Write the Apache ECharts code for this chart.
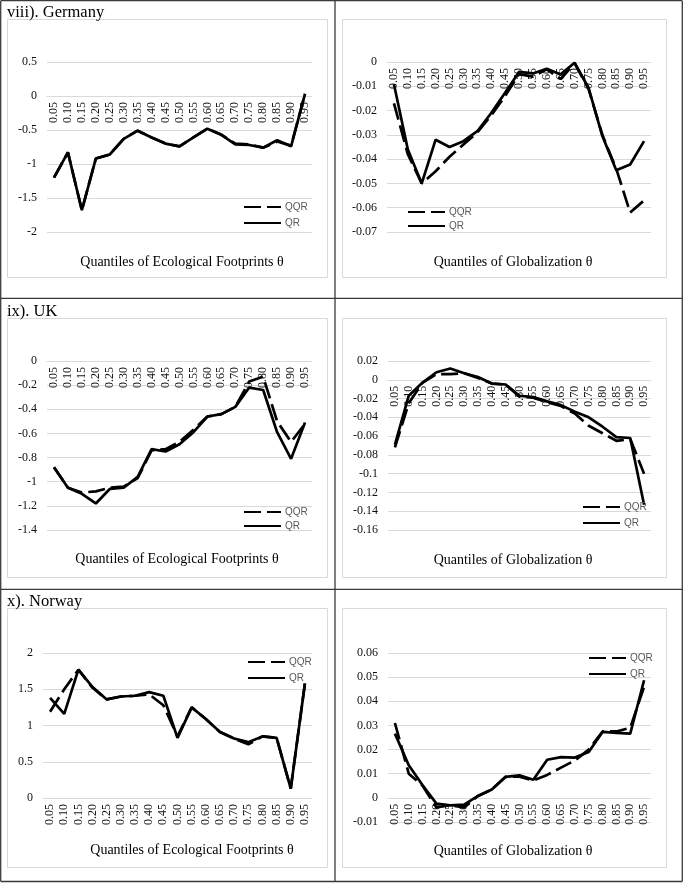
<!DOCTYPE html>
<html>
<head>
<meta charset="utf-8">
<script src="https://cdn.jsdelivr.net/npm/echarts@6/dist/echarts.min.js"></script>
<style>
html,body{margin:0;padding:0;background:#fff;}
#main{width:685px;height:883px;}
</style>
</head>
<body>
<div id="main"></div>
<script>
// ---------- data ----------
const quantiles = ['0.05','0.10','0.15','0.20','0.25','0.30','0.35','0.40','0.45','0.50','0.55','0.60','0.65','0.70','0.75','0.80','0.85','0.90','0.95'];

const panelTitles = ['viii). Germany', 'ix). UK', 'x). Norway'];
const axisTitleEF = 'Quantiles of Ecological Footprints θ';
const axisTitleGL = 'Quantiles of Globalization θ';
const seriesNames = ['QQR', 'QR'];

const germanyEF_QQR = [-1.20,-0.83,-1.68,-0.92,-0.86,-0.63,-0.51,-0.61,-0.70,-0.74,-0.61,-0.48,-0.57,-0.70,-0.71,-0.76,-0.67,-0.73,0.03];
const germanyEF_QR  = [-1.20,-0.83,-1.68,-0.92,-0.86,-0.63,-0.51,-0.61,-0.70,-0.74,-0.61,-0.48,-0.57,-0.71,-0.72,-0.76,-0.65,-0.74,0.03];

const germanyGL_QQR = [-0.017,-0.038,-0.050,-0.045,-0.039,-0.034,-0.029,-0.022,-0.014,-0.005,-0.006,-0.003,-0.007,-0.0005,-0.011,-0.030,-0.044,-0.062,-0.057];
const germanyGL_QR  = [-0.0092,-0.036,-0.050,-0.032,-0.035,-0.0326,-0.0285,-0.021,-0.0127,-0.0041,-0.0047,-0.0028,-0.0051,-0.0003,-0.0106,-0.0305,-0.0446,-0.0422,-0.0326];

const ukEF_QQR = [-0.88,-1.05,-1.09,-1.08,-1.05,-1.04,-0.97,-0.74,-0.73,-0.67,-0.57,-0.46,-0.44,-0.38,-0.17,-0.13,-0.50,-0.67,-0.52];
const ukEF_QR  = [-0.88,-1.05,-1.10,-1.18,-1.06,-1.05,-0.96,-0.73,-0.75,-0.69,-0.59,-0.46,-0.44,-0.38,-0.22,-0.24,-0.59,-0.81,-0.51];

const ukGL_QQR = [-0.072,-0.025,-0.003,0.006,0.006,0.007,0.002,-0.004,-0.005,-0.018,-0.019,-0.024,-0.028,-0.036,-0.049,-0.057,-0.065,-0.063,-0.100];
const ukGL_QR  = [-0.069,-0.017,-0.003,0.008,0.012,0.007,0.003,-0.004,-0.005,-0.017,-0.0185,-0.023,-0.027,-0.034,-0.040,-0.050,-0.061,-0.062,-0.133];

const norwayEF_QQR = [1.19,1.50,1.77,1.52,1.36,1.40,1.41,1.43,1.28,0.85,1.25,1.09,0.91,0.82,0.74,0.85,0.83,0.13,1.58];
const norwayEF_QR  = [1.38,1.16,1.77,1.53,1.36,1.40,1.41,1.46,1.41,0.83,1.25,1.09,0.91,0.82,0.77,0.85,0.83,0.13,1.58];

const norwayGL_QQR = [0.031,0.010,0.005,-0.004,-0.003,-0.004,0.0008,0.0035,0.0087,0.0088,0.0072,0.0095,0.0125,0.0155,0.020,0.0275,0.0275,0.029,0.046];
const norwayGL_QR  = [0.0266,0.0135,0.0052,-0.0024,-0.0031,-0.0028,0.0008,0.0035,0.0087,0.0093,0.0075,0.0158,0.0169,0.0167,0.0190,0.0273,0.0269,0.0266,0.0487];

// y-axis scales (min, max, interval)
const yScales = [
  [-2, 0.5, 0.5],
  [-0.07, 0, 0.01],
  [-1.4, 0, 0.2],
  [-0.16, 0.02, 0.02],
  [0, 2, 0.5],
  [-0.01, 0.06, 0.01]
];

// ---------- layout ----------
const panels = [
  {grid:{left:47, top:62, width:265, height:170}, qqr:germanyEF_QQR, qr:germanyEF_QR, xTitle:axisTitleEF, xTitlePos:[182,262], legend:{left:243, top:202, gap:6}},
  {grid:{left:387, top:62, width:264, height:170}, qqr:germanyGL_QQR, qr:germanyGL_QR, xTitle:axisTitleGL, xTitlePos:[513,262], legend:{left:407, top:207, gap:4}},
  {grid:{left:47, top:361, width:265, height:169}, qqr:ukEF_QQR, qr:ukEF_QR, xTitle:axisTitleEF, xTitlePos:[177,559], legend:{left:243, top:507, gap:4}},
  {grid:{left:388, top:361, width:263, height:169}, qqr:ukGL_QQR, qr:ukGL_QR, xTitle:axisTitleGL, xTitlePos:[513,560], legend:{left:582, top:502, gap:6}},
  {grid:{left:43, top:653, width:269, height:145}, qqr:norwayEF_QQR, qr:norwayEF_QR, xTitle:axisTitleEF, xTitlePos:[192,850], legend:{left:247, top:657, gap:6}},
  {grid:{left:388, top:653, width:263, height:169}, qqr:norwayGL_QQR, qr:norwayGL_QR, xTitle:axisTitleGL, xTitlePos:[513,851], legend:{left:588, top:653, gap:6}}
];

const serif = '"Liberation Serif", "Times New Roman", serif';
const gridColor = '#d9d9d9';

// place the category axis where the value axis crosses zero
function zeroOffset(i) {
  const s = yScales[i], h = panels[i].grid.height;
  return -h * (0 - s[0]) / (s[1] - s[0]);
}

const option = {
  animation: false,
  backgroundColor: '#fff',
  grid: panels.map(p => p.grid),
  xAxis: panels.map((p, i) => ({
    type: 'category',
    gridIndex: i,
    data: quantiles,
    boundaryGap: true,
    position: 'bottom',
    offset: zeroOffset(i),
    axisLine: {show: true, onZero: false, lineStyle: {color: gridColor, width: 1}},
    axisTick: {show: false},
    axisLabel: {rotate: 90, interval: 0, margin: 6, fontFamily: serif, fontSize: 12, color: '#111'},
    splitLine: {show: false}
  })),
  yAxis: panels.map((p, i) => ({
    type: 'value',
    gridIndex: i,
    min: yScales[i][0],
    max: yScales[i][1],
    interval: yScales[i][2],
    axisLine: {show: false},
    axisTick: {show: false},
    axisLabel: {margin: 10, fontFamily: serif, fontSize: 12, color: '#111'},
    splitLine: {show: true, lineStyle: {color: gridColor, width: 1}}
  })),
  legend: panels.map(p => ({
    data: seriesNames,
    orient: 'vertical',
    left: p.legend.left,
    top: p.legend.top,
    padding: 0,
    itemWidth: 37,
    itemHeight: 10,
    itemGap: p.legend.gap,
    selectedMode: false,
    itemStyle: {color: 'rgba(0,0,0,0)', borderColor: 'rgba(0,0,0,0)', borderWidth: 0, opacity: 0},
    textStyle: {fontFamily: '"Liberation Sans", Arial, sans-serif', fontSize: 10, color: '#595959', lineHeight: 10, padding:[0,0,0,-1]}
  })),
  series: [],
  graphic: []
};

panels.forEach((p, i) => {
  option.series.push({
    name: 'QQR', type: 'line', xAxisIndex: i, yAxisIndex: i, data: p.qqr,
    symbol: 'none', lineStyle: {color: '#000', width: 2.7, type: [17, 6]}, itemStyle: {color: '#000'}
  });
  option.series.push({
    name: 'QR', type: 'line', xAxisIndex: i, yAxisIndex: i, data: p.qr,
    symbol: 'none', lineStyle: {color: '#000', width: 2.7, type: 'solid'}, itemStyle: {color: '#000'}
  });
});

// chart area frames
const colX = [[7.5, 327.5], [342.5, 666.5]];
const rowY = [[19.5, 277.5], [318.5, 577.5], [608.5, 867.5]];
rowY.forEach(ry => colX.forEach(cx => {
  option.graphic.push({type:'rect', silent:true, z:-1,
    shape:{x:cx[0], y:ry[0], width:cx[1]-cx[0], height:ry[1]-ry[0]},
    style:{fill:'#fff', stroke:'#d9d9d9', lineWidth:1}});
}));

// table lines
const tblStroke = {stroke:'#3a3a3a', lineWidth:1.3};
[[0.7,0.7,682.3,0.7],[0.7,881.5,682.3,881.5],[0.7,0.7,0.7,881.5],[682.3,0.7,682.3,881.5],
 [335,0.7,335,881.5],[0.7,298.3,682.3,298.3],[0.7,589.3,682.3,589.3]].forEach(l => {
  option.graphic.push({type:'line', silent:true, z:10, shape:{x1:l[0], y1:l[1], x2:l[2], y2:l[3]}, style:tblStroke});
});

// panel titles
[[7, 17], [7, 316], [7, 606.5]].forEach((pos, i) => {
  option.graphic.push({type:'text', silent:true, z:10, left:pos[0], top:pos[1]-13,
    style:{text:panelTitles[i], font:'16.5px ' + serif, fill:'#000'}});
});

// axis titles
panels.forEach(p => {
  option.graphic.push({type:'text', silent:true, z:10, x:p.xTitlePos[0], y:p.xTitlePos[1],
    style:{text:p.xTitle, font:'14px ' + serif, fill:'#000', textAlign:'center', textVerticalAlign:'middle'}});
});

const chart = echarts.init(document.getElementById('main'), null, {renderer:'canvas'});
chart.setOption(option);
</script>
</body>
</html>
